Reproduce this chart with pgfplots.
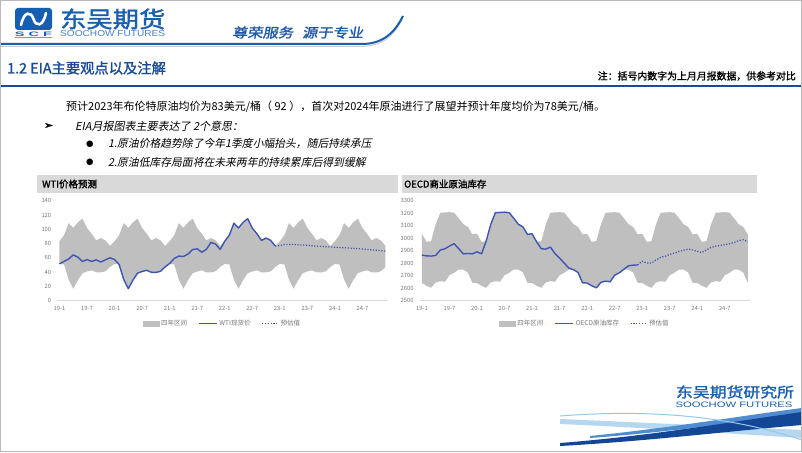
\documentclass[border=0pt]{standalone}
\usepackage{fontspec}
\usepackage{graphicx}
\usepackage{pgfplots}
\pgfplotsset{compat=1.18}
\usepackage{pgfplotstable}
\setmainfont{Noto Sans CJK SC}
\newfontfamily\cjkb{Noto Sans CJK SC}[FakeBold=1.5]
\newfontfamily\cjki{Noto Sans CJK SC}[FakeSlant=0.2]
\newfontfamily\cjkbi{Noto Sans CJK SC}[FakeBold=1.5,FakeSlant=0.15]
\newfontfamily\sym{DejaVu Sans}
\newfontfamily\symb{DejaVu Sans}[FakeBold=2]
\newfontfamily\lat{Liberation Sans}

\definecolor{logoblue}{RGB}{22,94,176}
\definecolor{lightlogo}{RGB}{70,130,200}
\definecolor{sloganblue}{RGB}{30,88,165}
\definecolor{titleblue}{RGB}{25,75,150}
\definecolor{rulenavy}{RGB}{30,75,140}
\definecolor{bandgray}{RGB}{191,191,191}
\definecolor{titlegray}{RGB}{217,217,217}
\definecolor{lineblue}{RGB}{64,84,178}
\definecolor{tickgray}{RGB}{120,120,120}
\definecolor{axisgray}{RGB}{217,217,217}
\definecolor{swdark}{RGB}{20,70,150}
\definecolor{swmid}{RGB}{80,140,210}
\definecolor{swlight}{RGB}{150,200,235}

% WTI four-year range as a closed outline: upper edge forward, lower edge back
\pgfplotstableread[row sep=\\]{
m v\\
0 83.2\\ 1 91.6\\ 2 108.5\\ 3 101.8\\ 4 109.6\\ 5 114.8\\ 6 101.6\\ 7 93.7\\ 8 84.3\\ 9 87.6\\ 10 84.4\\ 11 76.4\\
12 83.2\\ 13 91.6\\ 14 108.5\\ 15 101.8\\ 16 109.6\\ 17 114.8\\ 18 101.6\\ 19 93.7\\ 20 84.3\\ 21 87.6\\ 22 84.4\\ 23 76.4\\
24 83.2\\ 25 91.6\\ 26 108.5\\ 27 101.8\\ 28 109.6\\ 29 114.8\\ 30 101.6\\ 31 93.7\\ 32 84.3\\ 33 87.6\\ 34 84.4\\ 35 76.4\\
36 83.2\\ 37 91.6\\ 38 108.5\\ 39 101.8\\ 40 109.6\\ 41 114.8\\ 42 101.6\\ 43 93.7\\ 44 84.3\\ 45 87.6\\ 46 84.4\\ 47 76.4\\
48 83.2\\ 49 91.6\\ 50 108.5\\ 51 101.8\\ 52 109.6\\ 53 114.8\\ 54 101.6\\ 55 93.7\\ 56 84.3\\ 57 87.6\\ 58 84.4\\ 59 76.4\\
60 83.2\\ 61 91.6\\ 62 108.5\\ 63 101.8\\ 64 109.6\\ 65 114.8\\ 66 101.6\\ 67 93.7\\ 68 84.3\\ 69 87.6\\ 70 84.4\\ 71 76.4\\
71 47.0\\ 70 40.9\\ 69 39.4\\ 68 39.6\\ 67 42.3\\ 66 40.7\\ 65 38.3\\ 64 28.6\\ 63 16.5\\ 62 29.2\\ 61 50.5\\ 60 51.4\\
59 47.0\\ 58 40.9\\ 57 39.4\\ 56 39.6\\ 55 42.3\\ 54 40.7\\ 53 38.3\\ 52 28.6\\ 51 16.5\\ 50 29.2\\ 49 50.5\\ 48 51.4\\
47 47.0\\ 46 40.9\\ 45 39.4\\ 44 39.6\\ 43 42.3\\ 42 40.7\\ 41 38.3\\ 40 28.6\\ 39 16.5\\ 38 29.2\\ 37 50.5\\ 36 51.4\\
35 47.0\\ 34 40.9\\ 33 39.4\\ 32 39.6\\ 31 42.3\\ 30 40.7\\ 29 38.3\\ 28 28.6\\ 27 16.5\\ 26 29.2\\ 25 50.5\\ 24 51.4\\
23 47.0\\ 22 40.9\\ 21 39.4\\ 20 39.6\\ 19 42.3\\ 18 40.7\\ 17 38.3\\ 16 28.6\\ 15 16.5\\ 14 29.2\\ 13 50.5\\ 12 51.4\\
11 47.0\\ 10 40.9\\ 9 39.4\\ 8 39.6\\ 7 42.3\\ 6 40.7\\ 5 38.3\\ 4 28.6\\ 3 16.5\\ 2 29.2\\ 1 50.5\\ 0 51.4\\
}\wtiband

\pgfplotstableread[row sep=\\]{
m v\\
0 51.4\\ 1 54.9\\ 2 58.2\\ 3 63.9\\ 4 60.8\\ 5 54.7\\ 6 57.4\\ 7 54.8\\ 8 57.0\\ 9 54.0\\ 10 57.0\\ 11 59.9\\
12 57.5\\ 13 50.5\\ 14 29.2\\ 15 16.5\\ 16 28.6\\ 17 38.3\\ 18 40.7\\ 19 42.3\\ 20 39.6\\ 21 39.4\\ 22 40.9\\ 23 47.0\\
24 52.0\\ 25 59.0\\ 26 62.3\\ 27 61.7\\ 28 65.2\\ 29 71.4\\ 30 72.5\\ 31 67.7\\ 32 71.7\\ 33 81.5\\ 34 79.2\\ 35 71.7\\
36 83.2\\ 37 91.6\\ 38 108.5\\ 39 101.8\\ 40 109.6\\ 41 114.8\\ 42 101.6\\ 43 93.7\\ 44 84.3\\ 45 87.6\\ 46 84.4\\ 47 76.4\\
}\wtiact

\pgfplotstableread[row sep=\\]{
m v\\
47 76.4\\ 48 77.0\\ 49 78.5\\ 50 78.6\\ 51 78.5\\ 52 78.2\\ 53 77.8\\ 54 77.3\\ 55 76.8\\ 56 76.3\\ 57 75.9\\ 58 75.5\\
59 75.1\\ 60 74.7\\ 61 74.3\\ 62 74.0\\ 63 73.6\\ 64 73.2\\ 65 72.7\\ 66 72.2\\ 67 71.7\\ 68 71.2\\ 69 70.6\\ 70 70.0\\ 71 69.3\\
}\wtifc

% OECD commercial crude stocks four-year range as a closed outline
\pgfplotstableread[row sep=\\]{
m v\\
0 3035\\ 1 2970\\ 2 2976\\ 3 3110\\ 4 3203\\ 5 3206\\ 6 3208\\ 7 3204\\ 8 3160\\ 9 3112\\ 10 3090\\ 11 3030\\
12 3035\\ 13 2970\\ 14 2976\\ 15 3110\\ 16 3203\\ 17 3206\\ 18 3208\\ 19 3204\\ 20 3160\\ 21 3112\\ 22 3090\\ 23 3030\\
24 3035\\ 25 2970\\ 26 2976\\ 27 3110\\ 28 3203\\ 29 3206\\ 30 3208\\ 31 3204\\ 32 3160\\ 33 3112\\ 34 3090\\ 35 3030\\
36 3035\\ 37 2970\\ 38 2976\\ 39 3110\\ 40 3203\\ 41 3206\\ 42 3208\\ 43 3204\\ 44 3160\\ 45 3112\\ 46 3090\\ 47 3030\\
48 3035\\ 49 2970\\ 50 2976\\ 51 3110\\ 52 3203\\ 53 3206\\ 54 3208\\ 55 3204\\ 56 3160\\ 57 3112\\ 58 3090\\ 59 3030\\
60 3035\\ 61 2970\\ 62 2976\\ 63 3110\\ 64 3203\\ 65 3206\\ 66 3208\\ 67 3204\\ 68 3160\\ 69 3112\\ 70 3090\\ 71 3030\\
71 2642\\ 70 2725\\ 69 2748\\ 68 2748\\ 67 2722\\ 66 2703\\ 65 2650\\ 64 2655\\ 63 2645\\ 62 2602\\ 61 2618\\ 60 2640\\
59 2642\\ 58 2725\\ 57 2748\\ 56 2748\\ 55 2722\\ 54 2703\\ 53 2650\\ 52 2655\\ 51 2645\\ 50 2602\\ 49 2618\\ 48 2640\\
47 2642\\ 46 2725\\ 45 2748\\ 44 2748\\ 43 2722\\ 42 2703\\ 41 2650\\ 40 2655\\ 39 2645\\ 38 2602\\ 37 2618\\ 36 2640\\
35 2642\\ 34 2725\\ 33 2748\\ 32 2748\\ 31 2722\\ 30 2703\\ 29 2650\\ 28 2655\\ 27 2645\\ 26 2602\\ 25 2618\\ 24 2640\\
23 2642\\ 22 2725\\ 21 2748\\ 20 2748\\ 19 2722\\ 18 2703\\ 17 2650\\ 16 2655\\ 15 2645\\ 14 2602\\ 13 2618\\ 12 2640\\
11 2642\\ 10 2725\\ 9 2748\\ 8 2748\\ 7 2722\\ 6 2703\\ 5 2650\\ 4 2655\\ 3 2645\\ 2 2602\\ 1 2618\\ 0 2640\\
}\oecdband

\pgfplotstableread[row sep=\\]{
m v\\
0 2864\\ 1 2858\\ 2 2856\\ 3 2861\\ 4 2904\\ 5 2914\\ 6 2936\\ 7 2955\\ 8 2917\\ 9 2874\\ 10 2877\\ 11 2874\\
12 2890\\ 13 2874\\ 14 2976\\ 15 3110\\ 16 3203\\ 17 3206\\ 18 3208\\ 19 3204\\ 20 3160\\ 21 3112\\ 22 3090\\ 23 3030\\
24 3035\\ 25 2970\\ 26 2915\\ 27 2912\\ 28 2928\\ 29 2875\\ 30 2840\\ 31 2800\\ 32 2760\\ 33 2748\\ 34 2725\\ 35 2642\\
36 2640\\ 37 2618\\ 38 2602\\ 39 2645\\ 40 2655\\ 41 2650\\ 42 2703\\ 43 2722\\ 44 2750\\ 45 2778\\ 46 2783\\ 47 2785\\
}\oecdact

\pgfplotstableread[row sep=\\]{
m v\\
47 2785\\ 48 2815\\ 49 2800\\ 50 2800\\ 51 2825\\ 52 2845\\ 53 2855\\ 54 2870\\ 55 2880\\ 56 2893\\ 57 2903\\ 58 2912\\
59 2905\\ 60 2893\\ 61 2885\\ 62 2905\\ 63 2925\\ 64 2935\\ 65 2942\\ 66 2948\\ 67 2955\\ 68 2965\\ 69 2980\\ 70 2987\\ 71 2972\\
}\oecdfc

\pgfplotsset{
  chartbase/.style={
    anchor=south west,
    width=330.5pt, height=99.8pt, scale only axis,
    xmin=-0.5, xmax=71.5,
    xtick={0,6,...,66},
    xticklabels={19-1,19-7,20-1,20-7,21-1,21-7,22-1,22-7,23-1,23-7,24-1,24-7},
    axis x line*=bottom, axis y line*=left,
    y axis line style={draw=none},
    x axis line style={-, draw=axisgray, line width=0.8pt},
    major tick length=0pt,
    tick label style={font=\fontsize{5.8}{6}\selectfont, text=tickgray},
    /pgf/number format/assume math mode=true,
    /pgf/number format/1000 sep={},
    yticklabel style={xshift=-2.5pt},
    xticklabel style={yshift=-2.5pt},
    legend style={at={(0.5,-0.228)}, anchor=center, draw=none, fill=none,
      legend columns=-1, font=\fontsize{6.5}{7}\selectfont, text=tickgray,
      /tikz/every even column/.append style={column sep=9pt}},
    legend cell align=left,
  }
}

\begin{document}
\begin{tikzpicture}[x=1pt,y=1pt]
\fill[white] (0,0) rectangle (802,452);

% ---------- header ----------
\fill[logoblue, rounded corners=3pt] (15,422) rectangle (52,444);
\draw[white, line width=2.6pt, line cap=round] (21,427) .. controls (24,441) and (31,441) .. (33.5,433) .. controls (36,425) and (43,425) .. (46,439);
\node[inner sep=0, text=logoblue] at (33.5,418) {\resizebox{37pt}{4.5pt}{\lat\bfseries S C F}};
\fill[orange] (15,413.6) rectangle (52,414.8);
\node[anchor=west, inner sep=0, text=logoblue] at (60,433) {\resizebox{105pt}{19pt}{\cjkb 东吴期货}};
\node[anchor=west, inner sep=0, text=lightlogo] at (60,418.5) {\resizebox{105pt}{6pt}{\lat SOOCHOW FUTURES}};
\node[anchor=west, inner sep=0, text=sloganblue] at (232,419.5) {\resizebox{131pt}{11pt}{\cjkbi 尊荣服务\hspace{0.6em}源于专业}};
\draw[gray!40, line width=1pt] (0,405.5) -- (360,405.5) .. controls (384,405.5) and (395,418) .. (402,433);
\draw[logoblue, line width=2pt] (0,408) -- (362,408) .. controls (385,408) and (396,422) .. (403,436);

% ---------- section title ----------
\node[anchor=west, inner sep=0, text=titleblue] at (7,384) {\fontsize{14.3}{15}\cjkb 1.2 EIA主要观点以及注解};
\node[anchor=east, inner sep=0] at (796,376) {\fontsize{9.9}{10}\cjkb 注：括号内数字为上月月报数据，供参考对比};
\draw[rulenavy, line width=1.6pt] (0,366) -- (802,366);

% ---------- body text ----------
\node[anchor=west, inner sep=0] at (66,345) {\fontsize{11}{11}\selectfont 预计2023年布伦特原油均价为83美元/桶（ 92 ），首次对2024年原油进行了展望并预计年度均价为78美元/桶。};
\node[anchor=west, inner sep=0] at (44,326) {\symb\fontsize{10.5}{10.5}\selectfont ➢};
\node[anchor=west, inner sep=0] at (75,326) {\cjki\fontsize{11}{11}\selectfont EIA月报图表主要表达了 2个意思：};
\node[anchor=west, inner sep=0] at (86,308) {\sym\fontsize{8.5}{8.5}\selectfont ●};
\node[anchor=west, inner sep=0] at (108,308) {\cjki\fontsize{10.8}{11}\selectfont 1.原油价格趋势除了今年1季度小幅抬头，随后持续承压};
\node[anchor=west, inner sep=0] at (86,290) {\sym\fontsize{8.5}{8.5}\selectfont ●};
\node[anchor=west, inner sep=0] at (108,290) {\cjki\fontsize{10.8}{11}\selectfont 2.原油低库存局面将在未来两年的持续累库后得到缓解};

% ---------- chart title bands ----------
\fill[titlegray] (37,259) rectangle (398,277);
\node[anchor=west, inner sep=0] at (42,268) {\fontsize{9.5}{10}\cjkb WTI价格预测};
\fill[titlegray] (402,259) rectangle (757,277);
\node[anchor=west, inner sep=0] at (404,268) {\fontsize{9.5}{10}\cjkb OECD商业原油库存};

% ---------- WTI chart ----------
\begin{axis}[chartbase, at={(57.2pt,151.5pt)}, ymin=0, ymax=140, ytick={0,20,...,140}]
\addplot[fill=bandgray, draw=none, forget plot] table[x=m,y=v]{\wtiband} -- cycle;
\addplot[lineblue, line width=1.4pt, line join=round, forget plot] table[x=m,y=v]{\wtiact};
\addplot[lineblue, line width=1.2pt, dash pattern=on 1.2pt off 1.6pt, forget plot] table[x=m,y=v]{\wtifc};
\addlegendimage{legend image code/.code={\fill[bandgray] (0pt,-2.5pt) rectangle (16pt,2.5pt);}}
\addlegendentry{四年区间}
\addlegendimage{legend image code/.code={\draw[lineblue, line width=1.4pt] (0pt,0pt) -- (18pt,0pt);}}
\addlegendentry{WTI现货价}
\addlegendimage{legend image code/.code={\draw[lineblue, line width=1.2pt, dash pattern=on 1.2pt off 1.6pt] (0pt,0pt) -- (16pt,0pt);}}
\addlegendentry{预估值}
\end{axis}

% ---------- OECD chart ----------
\begin{axis}[chartbase, at={(419.6pt,151.5pt)}, ymin=2500, ymax=3300, ytick={2500,2600,...,3300}]
\addplot[fill=bandgray, draw=none, forget plot] table[x=m,y=v]{\oecdband} -- cycle;
\addplot[lineblue, line width=1.4pt, line join=round, forget plot] table[x=m,y=v]{\oecdact};
\addplot[lineblue, line width=1.2pt, dash pattern=on 1.2pt off 1.6pt, forget plot] table[x=m,y=v]{\oecdfc};
\addlegendimage{legend image code/.code={\fill[bandgray] (0pt,-2.5pt) rectangle (16pt,2.5pt);}}
\addlegendentry{四年区间}
\addlegendimage{legend image code/.code={\draw[lineblue, line width=1.4pt] (0pt,0pt) -- (18pt,0pt);}}
\addlegendentry{OECD原油库存}
\addlegendimage{legend image code/.code={\draw[lineblue, line width=1.2pt, dash pattern=on 1.2pt off 1.6pt] (0pt,0pt) -- (16pt,0pt);}}
\addlegendentry{预估值}
\end{axis}

% ---------- footer logo ----------
\begin{scope}
\clip (0,0) rectangle (802,452);
\fill[swlight, opacity=0.7] (560,33) .. controls (650,29) and (720,26) .. (802,22) -- (802,14) .. controls (720,19) and (650,24) .. (560,28) -- cycle;
\fill[swmid] (590,14) .. controls (670,20) and (740,30) .. (802,38) -- (802,44) .. controls (740,36) and (670,24) .. (590,16) -- cycle;
\fill[swdark] (560,6) .. controls (650,11) and (730,21) .. (802,27) -- (802,40) .. controls (730,30) and (650,16) .. (560,9) -- cycle;
\draw[swlight, line width=1pt] (560,36) .. controls (650,43) and (730,36) .. (802,12);
\end{scope}
\node[inner sep=0, text=logoblue] at (735,60) {\resizebox{118pt}{12pt}{\cjkb 东吴期货研究所}};
\node[inner sep=0, text=logoblue] at (734,47.5) {\resizebox{117pt}{5.5pt}{\lat SOOCHOW FUTURES}};

% ---------- frame ----------
\draw[gray!55, line width=0.8pt] (0.4,0.4) rectangle (801.6,451.6);
\pgfresetboundingbox
\path[use as bounding box] (0,0) rectangle (802,452);
\end{tikzpicture}
\end{document}
